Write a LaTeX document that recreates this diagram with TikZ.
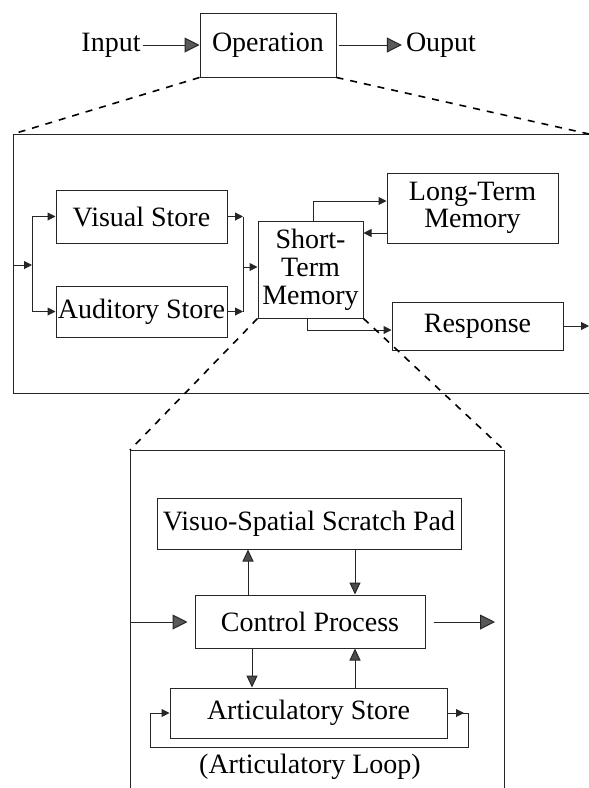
\documentclass[tikz,border=0pt]{standalone}
\usepackage{fontspec}
\setmainfont{Liberation Serif}
\usetikzlibrary{arrows.meta}
\begin{document}
\begin{tikzpicture}[x=1pt,y=-1pt,
  box/.style={draw=black!85, line width=1pt, inner sep=0pt, font=\rmfamily\fontsize{28}{27}\selectfont, align=center},
  txt/.style={inner sep=0pt, font=\rmfamily\fontsize{28}{28}\selectfont},
  ln/.style={draw=black!85, line width=1pt},
  sarr/.style={ln, -{Triangle[length=8pt,width=8pt]}},
  marr/.style={ln, -{Triangle[length=12pt,width=11pt,fill=black!70]}},
  barr/.style={ln, -{Triangle[length=15pt,width=15pt,fill=black!65]}},
  zoomline/.style={line width=1.6pt, dash pattern=on 7pt off 7pt},
]
\useasboundingbox (0,0) rectangle (589,788);

% ---------- top level ----------
\node[box, minimum width=136pt, minimum height=64pt] (op) at (268,45) {Operation};
\node[txt] (in) at (111,45) {Input};
\node[txt] (out) at (441,45) {Ouput};
\draw[barr, shorten <=2pt] (in) -- (op);
\draw[barr, shorten <=2pt, shorten >=4pt] (op) -- (out);

% ---------- middle panel ----------
\coordinate (m1) at (13,134);
\coordinate (m2) at (589,134);
\coordinate (m3) at (13,393);
\coordinate (m4) at (589,393);
\draw[ln] (m2) -- (m1) -- (m3) -- (m4);
\draw[zoomline] (op.south west) -- (m1);
\draw[zoomline] (op.south east) -- (m2);

\node[box, minimum width=171pt, minimum height=53pt] (vs) at (141.5,216.5) {Visual Store};
\node[box, minimum width=171pt, minimum height=51pt] (as) at (141.5,311.5) {Auditory Store};
\node[box, minimum width=105pt, minimum height=97pt, font=\rmfamily\fontsize{28}{28}\selectfont] (stm) at (310.5,269.5) {Short-\\Term\\Memory};
\node[box, minimum width=171pt, minimum height=70pt] (ltm) at (472.5,208) {Long-Term\\Memory};
\node[box, minimum width=171pt, minimum height=48pt] (resp) at (477.5,326) {Response};

\coordinate (lin) at (13,265);
\coordinate (jin) at (32,265);
\draw[sarr] (lin) -- (jin);
\draw[ln] (jin |- vs) -- (jin |- as);
\draw[sarr] (jin |- vs) -- (vs.west);
\draw[sarr] (jin |- as) -- (as.west);

\coordinate (jout) at (243,267);
\draw[sarr] (vs.east) -- (jout |- vs);
\draw[sarr] (as.east) -- (jout |- as);
\draw[ln] (jout |- vs) -- (jout |- as);
\draw[sarr] (jout) -- (jout -| stm.west);

\coordinate (s1) at ([xshift=2.5pt]stm.north);
\coordinate (l1) at ([yshift=7pt]ltm.west);
\draw[sarr] (s1) |- (l1);
\coordinate (l2) at ([yshift=-25pt]ltm.west);
\draw[sarr] (l2) -- (l2 -| stm.east);
\coordinate (s2) at ([xshift=-3.5pt]stm.south);
\coordinate (r1) at ([yshift=-4pt]resp.west);
\draw[sarr] (s2) |- (r1);
\coordinate (rout) at (589,326);
\draw[sarr] (resp.east) -- (rout);

% ---------- bottom panel ----------
\coordinate (b1) at (130,450);
\coordinate (b2) at (504,450);
\coordinate (b3) at (130,788);
\coordinate (b4) at (504,788);
\draw[ln] (b3) -- (b1) -- (b2) -- (b4);
\draw[zoomline] (stm.south west) -- (b1);
\draw[zoomline] (stm.south east) -- (b2);

\node[box, minimum width=304pt, minimum height=51pt] (vssp) at (309,523.5) {Visuo-Spatial Scratch Pad};
\node[box, minimum width=230pt, minimum height=53pt] (cp) at (310,621.5) {Control Process};
\node[box, minimum width=277pt, minimum height=50pt] (art) at (308.5,713) {Articulatory Store};
\node[txt] (loop) at (310,767) {(Articulatory Loop)};

\coordinate (cin) at (130,622);
\coordinate (cout) at (495,622);
\draw[barr, shorten >=7pt] (cin) -- (cin -| cp.west);
\draw[barr, shorten <=8pt] (cp.east |- cout) -- (cout);

\coordinate (u1) at (248,0);
\coordinate (u2) at (355,0);
\coordinate (d1) at (252,0);
\draw[marr] (u1 |- cp.north) -- (u1 |- vssp.south);
\draw[marr] (u2 |- vssp.south) -- (u2 |- cp.north);
\draw[marr] (d1 |- cp.south) -- (d1 |- art.north);
\draw[marr] (u2 |- art.north) -- (u2 |- cp.south);

\coordinate (lr) at (468,713);
\coordinate (lrb) at (468,747);
\coordinate (llb) at (150,747);
\coordinate (ll) at (150,713);
\draw[ln] (art.east) -- (lr) -- (lrb) -- (llb) -- (ll);
\draw[sarr] (ll) -- (art.west);
\draw[sarr] (art.east) -- ([xshift=-4pt]lr);
\end{tikzpicture}
\end{document}
